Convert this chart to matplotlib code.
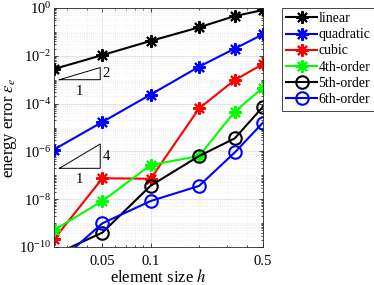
import matplotlib
matplotlib.use("Agg")
import matplotlib.pyplot as plt
import numpy as np
from matplotlib.ticker import LogLocator, FixedLocator, FixedFormatter, LogFormatterMathtext, NullFormatter

plt.rcParams['font.family'] = ['Liberation Serif', 'DejaVu Serif']
plt.rcParams['mathtext.fontset'] = 'stix'

# ---- data ----
h = [0.5, 1/3, 0.2, 0.1, 0.05, 0.025]
linear = [0.82, 0.46, 0.155, 4.2e-2, 1.07e-2, 2.8e-3]
quadratic = [7.9e-2, 2.0e-2, 3.5e-3, 2.4e-4, 1.7e-5, 1.2e-6]
cubic = [4.5e-3, 9.7e-4, 6.3e-5, 7.2e-8, 7.5e-8, 2.1e-10]
order4 = [4.6e-4, 4.6e-5, 6.4e-7, 2.7e-7, 8.4e-9, 5.1e-10]
order5 = [7.4e-5, 3.5e-6, 6.4e-7, 3.7e-8, 4.0e-10, 4.7e-11]
order6 = [1.6e-5, 9.0e-7, 3.6e-8, 8.4e-9, 9.8e-10, 1.6e-11]

labels = ['linear', 'quadratic', 'cubic', '4th-order', '5th-order', '6th-order']
series = [linear, quadratic, cubic, order4, order5, order6]
colors = ['black', 'blue', 'red', '#00ff00', 'black', 'blue']
markers = [(8, 2, 0), (8, 2, 0), (8, 2, 0), (8, 2, 0), 'o', 'o']

xticks = [0.05, 0.1, 0.5]
xticklabels = ['0.05', '0.1', '0.5']
yticks = [1e-10, 1e-8, 1e-6, 1e-4, 1e-2, 1e0]

# slope triangles: (x0, x1, y_base, slope)
triangles = [(0.027, 0.0485, 1.0e-3, 2), (0.027, 0.0485, 1.96e-7, 4)]

fig = plt.figure(figsize=(3.74, 2.85), dpi=100)
ax = fig.add_axes([54/374, 1 - 247/285, (263-54)/374, (247-8)/285])

for y, lab, c, m in zip(series, labels, colors, markers):
    mfc = 'none' if m == 'o' else c
    ax.plot(h, y, color=c, lw=1.5, marker=m, ms=9, mew=1.5, mfc=mfc, label=lab)

for x0, x1, yb, s in triangles:
    y1 = yb * (x1 / x0) ** s
    ax.plot([x0, x1, x1, x0], [yb, yb, y1, yb], color='black', lw=0.7)
    ax.text(np.sqrt(x0 * x1), yb / 1.6, '1', ha='center', va='top', fontsize=10.5)
    ax.text(x1 * 1.03, np.sqrt(yb * y1), str(s), ha='left', va='center', fontsize=10.5)

ax.set_xscale('log')
ax.set_yscale('log')
ax.set_xlim(0.025, 0.5)
ax.set_ylim(1e-10, 1)

ax.xaxis.set_major_locator(FixedLocator(xticks))
ax.xaxis.set_major_formatter(FixedFormatter(xticklabels))
ax.xaxis.set_minor_locator(LogLocator(base=10, subs=np.arange(1, 10)))
ax.xaxis.set_minor_formatter(NullFormatter())
ax.yaxis.set_major_locator(FixedLocator(yticks))
ax.yaxis.set_major_formatter(LogFormatterMathtext())
ax.yaxis.set_minor_locator(LogLocator(base=10, subs=np.arange(1, 10), numticks=30))
ax.yaxis.set_minor_formatter(NullFormatter())

ax.tick_params(which='both', direction='in', top=True, right=True, labelsize=10.5, width=0.5)
ax.tick_params(which='major', length=3)
ax.tick_params(which='minor', length=1.5)
ax.tick_params(axis='x', pad=6)
ax.tick_params(axis='y', pad=2)
ax.grid(True, which='major', color='#d9d9d9', lw=0.5)
ax.grid(True, which='minor', color='#e6e6e6', lw=0.5, ls=':')
ax.set_axisbelow(True)
for sp in ax.spines.values():
    sp.set_linewidth(0.6)
    sp.set_color('#262626')

ax.set_xlabel('element size $h$', fontsize=12, labelpad=0.5)
ax.set_ylabel(r'energy error $\varepsilon_e$', fontsize=12, labelpad=0)

leg = fig.legend(loc='upper left', bbox_to_anchor=(281.5/374, 1 - 7.5/285), fontsize=10,
                 frameon=True, fancybox=False, framealpha=1, edgecolor='#262626',
                 handlelength=2.2, handletextpad=0.1, labelspacing=0.22,
                 borderpad=0.35, borderaxespad=0)
leg.get_frame().set_linewidth(0.6)

fig.savefig('out.png', dpi=100)
